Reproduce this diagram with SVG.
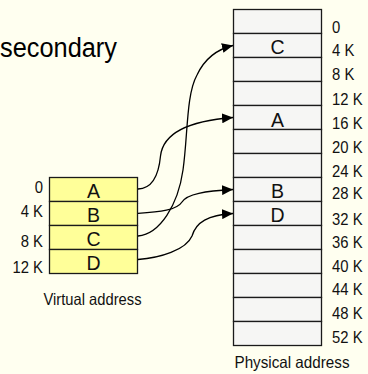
<svg xmlns="http://www.w3.org/2000/svg" width="368" height="374" viewBox="0 0 368 374">
<defs>
<style>
.bg{fill:#FFFFF0}
.v{fill:#FFFF99;stroke:#1a1a1a;stroke-width:1.3}
.p{fill:#F6F6F4;stroke:#1a1a1a;stroke-width:1.3}
.cell{font-family:"Liberation Sans",Arial,sans-serif;font-size:19.5px;fill:#111;text-anchor:middle}
.lbl{font-family:"Liberation Sans",Arial,sans-serif;font-size:16.5px;fill:#111}
.cap{font-family:"Liberation Sans",Arial,sans-serif;font-size:16.5px;fill:#111;text-anchor:middle}
.title{font-family:"Liberation Sans",Arial,sans-serif;font-size:27px;fill:#000}
.conn{fill:none;stroke:#000;stroke-width:1.3;marker-end:url(#ah)}
</style>
<marker id="ah" markerUnits="userSpaceOnUse" viewBox="0 0 11 10" refX="11" refY="5" markerWidth="11" markerHeight="10" orient="auto">
<path d="M0,0 L11,5 L0,10 Z" fill="#000"/>
</marker>
</defs>
<rect class="bg" x="0" y="0" width="368" height="374"/>
<text class="title" x="0" y="57" textLength="117" lengthAdjust="spacingAndGlyphs">secondary</text>

<g id="virtual">
<g id="vA"><rect class="v" x="49.5" y="177.5" width="88" height="24"/><text class="cell" x="93.5" y="198">A</text></g>
<g id="vB"><rect class="v" x="49.5" y="201.5" width="88" height="24"/><text class="cell" x="93.5" y="222">B</text></g>
<g id="vC"><rect class="v" x="49.5" y="225.5" width="88" height="24"/><text class="cell" x="93.5" y="246">C</text></g>
<g id="vD"><rect class="v" x="49.5" y="249.5" width="88" height="24"/><text class="cell" x="93.5" y="270">D</text></g>
<g id="vlabels" transform="translate(43,0) scale(0.9,1)">
<text class="lbl" x="0" y="192.7" text-anchor="end">0</text>
<text class="lbl" x="0" y="216.7" text-anchor="end">4 K</text>
<text class="lbl" x="0" y="247.3" text-anchor="end">8 K</text>
<text class="lbl" x="0" y="272.7" text-anchor="end">12 K</text>
</g>
<text class="cap" x="92.5" y="305" textLength="98" lengthAdjust="spacingAndGlyphs">Virtual address</text>
</g>

<g id="physical">
<g id="p0"><rect class="p" x="233.5" y="9.5" width="88" height="24"/></g>
<g id="p1"><rect class="p" x="233.5" y="33.5" width="88" height="24"/><text class="cell" x="277.5" y="54">C</text></g>
<g id="p2"><rect class="p" x="233.5" y="57.5" width="88" height="24"/></g>
<g id="p3"><rect class="p" x="233.5" y="81.5" width="88" height="24"/></g>
<g id="p4"><rect class="p" x="233.5" y="105.5" width="88" height="24"/><text class="cell" x="277.5" y="126.5">A</text></g>
<g id="p5"><rect class="p" x="233.5" y="129.5" width="88" height="24"/></g>
<g id="p6"><rect class="p" x="233.5" y="153.5" width="88" height="24"/></g>
<g id="p7"><rect class="p" x="233.5" y="177.5" width="88" height="24"/><text class="cell" x="277.5" y="198.3">B</text></g>
<g id="p8"><rect class="p" x="233.5" y="201.5" width="88" height="24"/><text class="cell" x="277.5" y="221.7">D</text></g>
<g id="p9"><rect class="p" x="233.5" y="225.5" width="88" height="24"/></g>
<g id="p10"><rect class="p" x="233.5" y="249.5" width="88" height="24"/></g>
<g id="p11"><rect class="p" x="233.5" y="273.5" width="88" height="24"/></g>
<g id="p12"><rect class="p" x="233.5" y="297.5" width="88" height="24"/></g>
<g id="p13"><rect class="p" x="233.5" y="321.5" width="88" height="24"/></g>
<g id="plabels" transform="translate(332,0) scale(0.9,1)">
<text class="lbl" x="0" y="32.7">0</text>
<text class="lbl" x="0" y="56.3">4 K</text>
<text class="lbl" x="0" y="80.3">8 K</text>
<text class="lbl" x="0" y="105">12 K</text>
<text class="lbl" x="0" y="129">16 K</text>
<text class="lbl" x="0" y="152.7">20 K</text>
<text class="lbl" x="0" y="176.7">24 K</text>
<text class="lbl" x="0" y="199">28 K</text>
<text class="lbl" x="0" y="225">32 K</text>
<text class="lbl" x="0" y="248.3">36 K</text>
<text class="lbl" x="0" y="272.5">40 K</text>
<text class="lbl" x="0" y="295.5">44 K</text>
<text class="lbl" x="0" y="319.4">48 K</text>
<text class="lbl" x="0" y="343.3">52 K</text>
</g>
<text class="cap" x="292" y="368.3" textLength="115" lengthAdjust="spacingAndGlyphs">Physical address</text>
</g>

<g id="connectors">
<path class="conn" d="M138,189 C154,188.5 159,172 160.5,156 C163,134 186,121 233,117.5"/>
<path class="conn" d="M138,213.3 C160,212 177,210 182,202 C187,194 205,191 233,189.5"/>
<path class="conn" d="M138,236 C160,234 178,205 183,170 C188,135 186,95 197,75 C205,58 218,49 233,45.5"/>
<path class="conn" d="M138,259.5 C160,258 186,250 192,236 C196,222 208,215 233,213.5"/>
</g>
</svg>
